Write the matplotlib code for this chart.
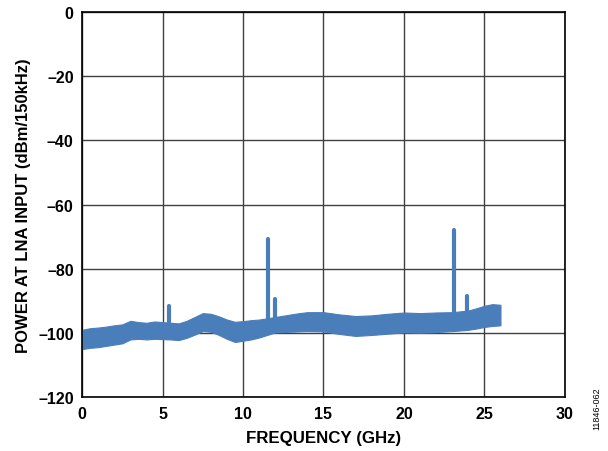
import numpy as np
import matplotlib
matplotlib.use("Agg")
import matplotlib.pyplot as plt
from matplotlib.ticker import FuncFormatter

# noise floor envelope (GHz, dBm)
freq = [0.0, 0.5, 1.0, 1.5, 2.0, 2.5, 3.0, 3.5, 4.0, 4.5, 5.0, 5.5, 6.0, 6.5,
        7.0, 7.5, 8.0, 8.5, 9.0, 9.5, 10.0, 10.5, 11.0, 11.5, 12.0, 12.5,
        13.0, 13.5, 14.0, 15.0, 16.0, 17.0, 18.0, 19.0, 20.0, 21.0, 22.0,
        23.0, 24.0, 24.5, 25.0, 25.5, 26.0]
upper = [-99.0, -98.5, -98.3, -98.0, -97.6, -97.3, -96.2, -96.6, -96.8, -96.4,
         -96.6, -96.8, -97.0, -96.2, -95.0, -93.8, -94.0, -94.8, -95.8, -96.5,
         -96.3, -96.0, -95.8, -95.4, -95.0, -94.6, -94.2, -93.8, -93.5, -93.5,
         -94.2, -94.7, -94.5, -94.0, -93.6, -93.8, -93.6, -93.5, -93.0, -92.3,
         -91.5, -91.0, -91.2]
lower = [-105.0, -104.6, -104.4, -104.0, -103.6, -103.2, -102.0, -101.8, -102.0,
         -101.8, -101.9, -102.0, -102.2, -101.5, -100.5, -99.4, -99.6, -100.6,
         -101.8, -102.8, -102.4, -102.0, -101.4, -100.6, -99.8, -99.7, -99.6,
         -99.5, -99.4, -99.5, -100.3, -100.9, -100.6, -100.2, -99.8, -99.9, -99.7,
         -99.4, -99.0, -98.6, -98.1, -97.8, -97.6]

# spurs
spur_freq = [5.4, 11.55, 12.0, 23.1, 23.9]
spur_level = [-91.6, -70.7, -89.4, -67.9, -88.5]

blue = "#4a7ebb"

plt.rcParams['font.family'] = ['Liberation Sans', 'DejaVu Sans']
plt.rcParams['font.weight'] = 'bold'

fig = plt.figure(figsize=(6.08, 4.52), dpi=100)
ax = fig.add_axes([0.135, 0.119, 0.794, 0.852])

ax.fill_between(freq, lower, upper, color=blue, linewidth=0.8, edgecolor=blue)
for f, lvl, lo in zip(spur_freq, spur_level, np.interp(spur_freq, freq, upper)):
    ax.plot([f, f], [lo, lvl], color=blue, linewidth=3.0, solid_capstyle='round')

ax.set_xlim(0, 30)
ax.set_ylim(-120, 0)
ax.set_xticks(np.arange(0, 31, 5))
ax.set_yticks(np.arange(-120, 1, 20))
fmt = FuncFormatter(lambda v, p: f"{int(v)}".replace("-", "\u2013"))
ax.xaxis.set_major_formatter(fmt)
ax.yaxis.set_major_formatter(fmt)
ax.grid(True, color='#404040', linewidth=1.0)
ax.set_axisbelow(True)
ax.tick_params(length=0, labelsize=11.5, pad=6)
for s in ax.spines.values():
    s.set_color('black')
    s.set_linewidth(1.2)

ax.set_xlabel('FREQUENCY (GHz)', fontsize=12.2, fontweight='bold', labelpad=7)
ax.set_ylabel('POWER AT LNA INPUT (dBm/150kHz)', fontsize=12,
              fontweight='bold', labelpad=5)

fig.text(0.982, 0.095, '11846-062', rotation=90, fontsize=6.5,
         fontweight='normal', ha='center', va='center')

fig.savefig('out.png', dpi=100)
